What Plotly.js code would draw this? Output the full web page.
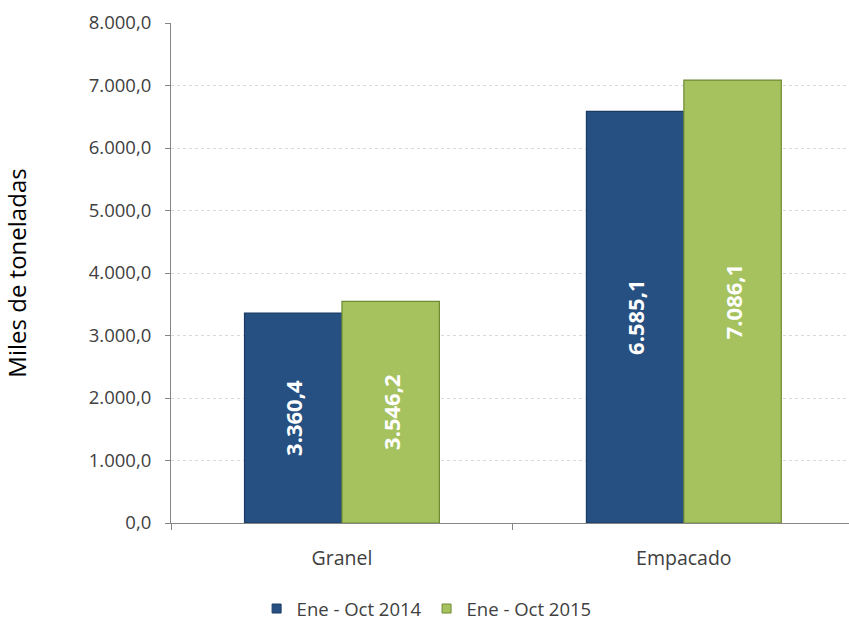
<!DOCTYPE html>
<html>
<head>
<meta charset="utf-8">
<script src="https://cdn.plot.ly/plotly-3.0.1.min.js"></script>
<style>html,body{margin:0;padding:0;background:#fff;overflow:hidden}</style>
</head>
<body>
<div id="chart" style="width:849px;height:628px"></div>
<script>
const categories = ["Granel", "Empacado"];
const series2014 = [3360.4, 6585.1];
const series2015 = [3546.2, 7086.1];
const seriesNames = ["Ene - Oct 2014", "Ene - Oct 2015"];
const yTicks = [0, 1000, 2000, 3000, 4000, 5000, 6000, 7000, 8000];

const font = "Open Sans, Liberation Sans, sans-serif";
const fills = ["#264f82", "#a5c25f"];
const edges = ["#1b3b63", "#6f8b35"];
function barTrace(name, y, fill, edge) {
  return {
    type: "bar", name: name, x: categories, y: y, showlegend: false,
    marker: {color: fill, line: {color: edge, width: 1.2}},
    texttemplate: "%{y:,.1f}", textposition: "inside", insidetextanchor: "middle",
    textangle: -90, constraintext: "none",
    textfont: {family: font, size: 22, color: "#ffffff", weight: "bold"},
    hoverinfo: "none"
  };
}
function legendTrace(name, fill, edge) {
  return {
    type: "scatter", mode: "markers", name: name, x: [null], y: [null],
    marker: {symbol: "square", size: 9, color: fill, line: {color: edge, width: 1}},
    showlegend: true, hoverinfo: "none"
  };
}
const data = [
  barTrace(seriesNames[0], series2014, fills[0], edges[0]),
  barTrace(seriesNames[1], series2015, fills[1], edges[1]),
  legendTrace(seriesNames[0], fills[0], edges[0]),
  legendTrace(seriesNames[1], fills[1], edges[1])
];
const layout = {
  width: 849, height: 628,
  margin: {l: 171, r: 0, t: 23, b: 105},
  paper_bgcolor: "#ffffff", plot_bgcolor: "#ffffff",
  separators: ",.",
  barmode: "group", bargap: 0.43, bargroupgap: 0,
  font: {family: font, color: "#404040", size: 18},
  xaxis: {
    type: "category", range: [-0.5, 1.483], showgrid: false, automargin: false,
    showline: true, linecolor: "#868686", linewidth: 1,
    ticks: "outside", tickson: "boundaries", ticklen: 6, tickcolor: "#868686",
    tickfont: {size: 19.5, color: "#404040"}, ticklabelstandoff: 18
  },
  yaxis: {
    range: [0, 8000], tickvals: yTicks, tickformat: ",.1f", automargin: false,
    showline: true, linecolor: "#868686", linewidth: 1,
    ticks: "outside", ticklen: 5, tickcolor: "#868686",
    showgrid: true, gridcolor: "#d9d9d9", griddash: "dot", gridwidth: 1,
    zeroline: false, ticklabelstandoff: 10,
    tickfont: {size: 18.5, color: "#404040"},
    title: {text: "Miles de toneladas", font: {size: 24, color: "#000000"}, standoff: 60}
  },
  showlegend: true,
  legend: {orientation: "h", xref: "paper", x: 0.377, xanchor: "center",
    yref: "container", y: -0.011, yanchor: "bottom",
    font: {size: 18.5, color: "#404040"}, traceorder: "normal", itemclick: false}
};
Plotly.newPlot("chart", data, layout, {displayModeBar: false, staticPlot: true});
</script>
</body>
</html>
